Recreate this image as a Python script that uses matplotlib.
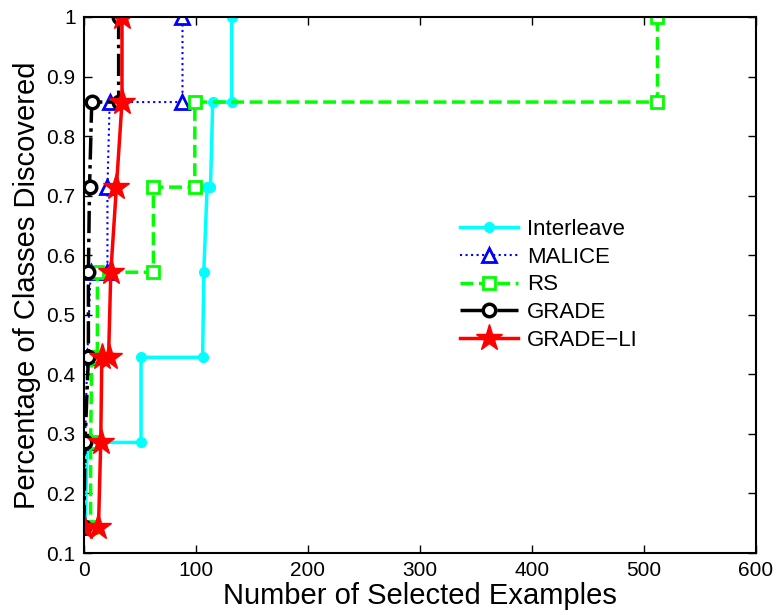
import numpy as np
import matplotlib.pyplot as plt

plt.rcParams['font.family'] = ['Liberation Sans', 'DejaVu Sans']

# staircase points (number of examples, fraction of classes found) per method
x_interleave = [1, 3, 51, 51, 106, 107, 110, 113, 115, 132, 132]
y_interleave = [1/7, 2/7, 2/7, 3/7, 3/7, 4/7, 5/7, 5/7, 6/7, 6/7, 1]

x_malice = [0, 1, 3, 6, 21, 21, 23, 88, 88]
y_malice = [1/7, 2/7, 3/7, 4/7, 4/7, 5/7, 6/7, 6/7, 1]

x_rs = [1, 6, 6, 7, 12, 12, 62, 62, 99, 99, 512, 512]
y_rs = [1/7, 1/7, 2/7, 3/7, 3/7, 4/7, 4/7, 5/7, 5/7, 6/7, 6/7, 1]

x_grade = [0, 1, 4, 4, 5, 7, 31, 31]
y_grade = [1/7, 2/7, 3/7, 4/7, 5/7, 6/7, 6/7, 1]

x_gradeli = [0, 13, 15, 16, 22, 24, 29, 34, 34]
y_gradeli = [1/7, 1/7, 2/7, 3/7, 3/7, 4/7, 5/7, 6/7, 1]

fig = plt.figure(figsize=(7.77, 6.15), dpi=100)
ax = fig.add_axes([0.108, 0.1008, 0.865, 0.8716])

ax.plot(x_interleave, y_interleave, '-', color=(0, 1, 1), lw=2.5,
        marker='o', ms=7, mfc=(0, 1, 1), mec=(0, 1, 1), label='Interleave')
ax.plot(x_malice, y_malice, ':', color=(0, 0, 1), lw=1.5,
        marker='^', ms=10, mfc='white', mec=(0, 0, 1), mew=2, label='MALICE')
ax.plot(x_rs, y_rs, '--', color=(0, 1, 0), lw=2.5,
        marker='s', ms=8, mfc='white', mec=(0, 1, 0), mew=2, label='RS')
ax.plot(x_grade, y_grade, '-.', color='black', lw=2.5,
        marker='o', ms=9, mfc='white', mec='black', mew=2.5, label='GRADE')
ax.plot(x_gradeli, y_gradeli, '-', color=(1, 0, 0), lw=2.5,
        marker='*', ms=20, mfc=(1, 0, 0), mec=(1, 0, 0), label='GRADE\u2212LI')

ax.set_xlim(0, 600)
ax.set_ylim(0.1, 1)
ax.set_xticks(np.arange(0, 601, 100))
ax.set_yticks(np.arange(0.1, 1.01, 0.1))
ax.set_yticklabels(['0.1', '0.2', '0.3', '0.4', '0.5', '0.6', '0.7', '0.8', '0.9', '1'])
ax.tick_params(direction='in', length=6, width=1, labelsize=15, pad=6,
               top=True, right=True)
for s in ax.spines.values():
    s.set_linewidth(1.5)

ax.set_xlabel('Number of Selected Examples', fontsize=21, labelpad=1)
ax.set_ylabel('Percentage of Classes Discovered', fontsize=21, labelpad=4)

ax.legend(loc='center left', bbox_to_anchor=(0.53, 0.50), frameon=False,
          fontsize=16, handlelength=2.6, labelspacing=0.3, handletextpad=0.4)

fig.savefig('out.png', dpi=100)
